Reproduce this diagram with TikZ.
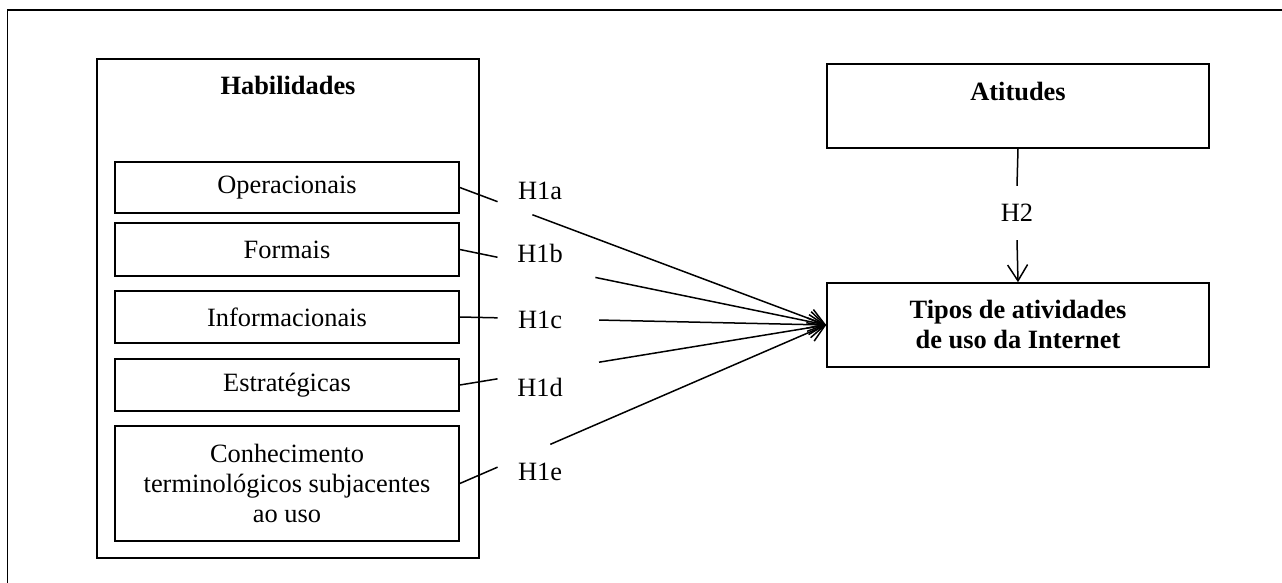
\documentclass[tikz,border=0pt]{standalone}
\usepackage{fontspec}
\setmainfont{Liberation Serif}
\usetikzlibrary{arrows.meta}
\begin{document}
\begin{tikzpicture}[x=1pt,y=-1pt,
  txt/.style={font=\fontsize{26.4}{30}\selectfont},
  box/.style={draw,line width=1.6pt,rectangle,inner sep=0pt,txt},
  skill/.style={box,minimum width=344pt},
  bigbox/.style={box,minimum width=382pt},
  hlabel/.style={inner sep=0pt,txt},
  conn/.style={line width=1.5pt},
  arr/.style={conn,-{Straight Barb[length=16pt,width=20pt,line width=1.5pt]}}]
\clip (0,0) rectangle (1282,583);
\draw[line width=1.6pt] (7.5,10) rectangle (1320,620);

% left group
\node[bigbox,font=\fontsize{26.4}{30}\selectfont\bfseries,text height=36pt,text depth=463pt,anchor=north] (hab) at (288,58) {Habilidades};
\node[skill,minimum height=51pt] (op) at (287,187.5) {Operacionais};
\node[skill,minimum height=53pt] (fo) at (287,249.5) {Formais};
\node[skill,minimum height=52pt] (in) at (287,317) {Informacionais};
\node[skill,minimum height=52pt] (es) at (287,385) {Estratégicas};
\node[skill,minimum height=115pt,align=center] (co) at (287,483.5) {Conhecimento\\terminológicos subjacentes\\ao uso};

% right group
\node[bigbox,font=\fontsize{26.4}{30}\selectfont\bfseries,text height=37pt,text depth=47pt,anchor=north] (att) at (1018,63) {Atitudes};
\node[bigbox,minimum height=84pt,align=center,font=\fontsize{26.4}{30}\selectfont\bfseries] (tip) at (1018,325) {Tipos de atividades\\de uso da Internet};

% labels
\node[hlabel] (h1a) at (540,191) {H1a};
\node[hlabel] (h1b) at (540,253) {H1b};
\node[hlabel] (h1c) at (540,320) {H1c};
\node[hlabel] (h1d) at (540,387) {H1d};
\node[hlabel] (h1e) at (540,472) {H1e};
\node[hlabel,minimum height=54pt] (h2) at (1017,213) {H2};

% H2 connector
\draw[conn] (att.south) -- (h2.north);
\draw[arr] (h2.south) -- (tip.north);

% H1 connectors
\path (op.east) -- (tip.west) coordinate[pos=0.103] (a1) coordinate[pos=0.198] (b1);
\path (fo.east) -- (tip.west) coordinate[pos=0.103] (a2) coordinate[pos=0.37] (b2);
\path (in.east) -- (tip.west) coordinate[pos=0.103] (a3) coordinate[pos=0.38] (b3);
\path (es.east) -- (tip.west) coordinate[pos=0.103] (a4) coordinate[pos=0.38] (b4);
\path (co.east) -- (tip.west) coordinate[pos=0.103] (a5) coordinate[pos=0.247] (b5);
\draw[conn] (op.east) -- (a1);
\draw[arr] (b1) -- (tip.west);
\draw[conn] (fo.east) -- (a2);
\draw[arr] (b2) -- (tip.west);
\draw[conn] (in.east) -- (a3);
\draw[arr] (b3) -- (tip.west);
\draw[conn] (es.east) -- (a4);
\draw[arr] (b4) -- (tip.west);
\draw[conn] (co.east) -- (a5);
\draw[arr] (b5) -- (tip.west);
\end{tikzpicture}
\end{document}
